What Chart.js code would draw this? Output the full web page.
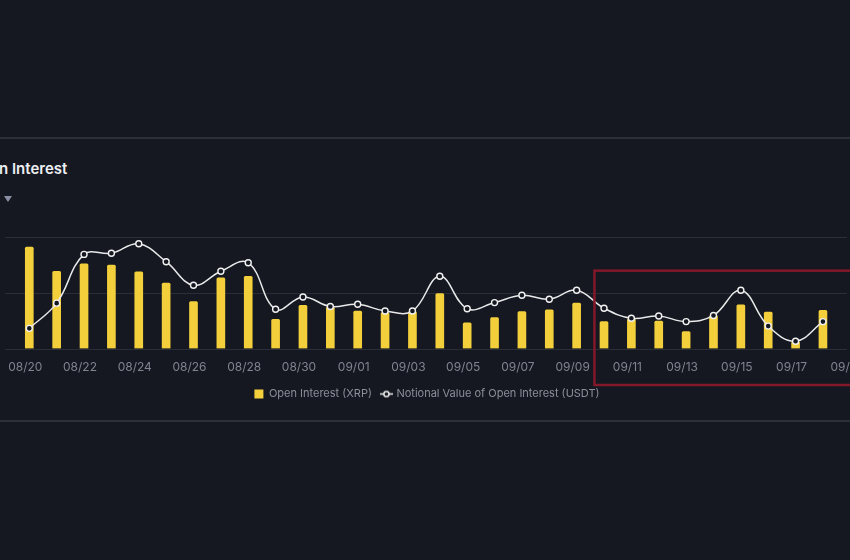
<!DOCTYPE html>
<html>
<head>
<meta charset="utf-8">
<script src="https://cdn.jsdelivr.net/npm/chart.js@4.4.1/dist/chart.umd.min.js"></script>
<style>
    html, body { margin: 0; padding: 0; }
    body {
        width: 850px; height: 560px; overflow: hidden; position: relative;
        background: #151821; font-family: Inter, "Noto Sans", sans-serif;
    }
    .sep { position: absolute; left: 0; width: 850px; height: 2px; background: #2b2f3a; }
    #title {
        position: absolute; top: 161px; left: -30px; white-space: nowrap;
        font: 600 15px Inter, sans-serif; line-height: 1; color: #eceef2;
    }
    #caret {
        position: absolute; left: 4px; top: 196px; width: 0; height: 0;
        border-left: 4px solid transparent; border-right: 4px solid transparent;
        border-top: 6px solid #8a8fa6;
    }
    #wrap { position: absolute; left: 0; top: 220px; width: 880px; height: 190px; }
</style>
</head>
<body>
<div class="sep" style="top:137px"></div>
<div id="title">Open Interest</div>
<div id="caret"></div>
<div class="sep" style="top:420px"></div>
<div id="wrap"><canvas id="oiChart" width="880" height="190"></canvas></div>

<script>
/* ---------------- DATA ---------------- */
const dates = [
    "08/20", "08/21", "08/22", "08/23", "08/24", "08/25", "08/26", "08/27", "08/28", "08/29",
    "08/30", "08/31", "09/01", "09/02", "09/03", "09/04", "09/05", "09/06", "09/07", "09/08",
    "09/09", "09/10", "09/11", "09/12", "09/13", "09/14", "09/15", "09/16", "09/17", "09/18",
    "09/19"
];
// Open Interest (XRP), millions
const openInterest = [
    181, 138, 151, 149, 137, 117, 84, 126, 129, 52,
    77, 74, 67, 64, 66, 98, 46, 55, 66, 69,
    81, 48, 53, 49, 30, 59, 78, 65, 12, 68,
    null
];
// Notional value of open interest (USDT), millions
const notionalValue = [
    36, 81, 168, 170, 187, 155, 113, 138, 153, 70,
    92, 75, 79, 67, 67, 129, 71, 82, 95, 88,
    104, 72, 54, 58, 48, 59, 104, 40, 13, 48,
    null
];
const yGrid = [0, 100, 200];

// highlighted zone (red frame in the screenshot)
const highlightFrom = 20.65;   // category index
const highlightTop = 139;      // y value

/* ---------------- TITLE CLIP ---------------- */
const mctx = document.createElement("canvas").getContext("2d");
mctx.font = "600 15px Inter";
document.getElementById("title").style.left = -(mctx.measureText("Ope").width + 1) + "px";

/* ---------------- LEGEND ICON ---------------- */
const lineIcon = document.createElement("canvas");
lineIcon.width = 13;
lineIcon.height = 9;
(() => {
    const c = lineIcon.getContext("2d");
    c.strokeStyle = "#f2f2f2";
    c.lineWidth = 1.5;
    c.beginPath(); c.moveTo(0, 4.5); c.lineTo(13, 4.5); c.stroke();
    c.fillStyle = "#151821";
    c.beginPath(); c.arc(6.5, 4.5, 2.6, 0, Math.PI * 2); c.fill(); c.stroke();
})();

/* ---------------- PLUGINS ---------------- */
const gridPlugin = {
    id: "fullGrid",
    beforeDatasetsDraw(chart) {
        const ctx = chart.ctx, y = chart.scales.y;
        ctx.save();
        ctx.strokeStyle = "#2a2e39";
        ctx.lineWidth = 1;
        yGrid.forEach(v => {
            const py = Math.round(y.getPixelForValue(v)) + 0.5;
            ctx.beginPath();
            ctx.moveTo(5, py);
            ctx.lineTo(847, py);
            ctx.stroke();
        });
        ctx.restore();
    }
};

const framePlugin = {
    id: "frame",
    afterLayout(chart) {
        // legend sits a little left of the plot centre in the screenshot
        chart.legend.left -= 11;
        chart.legend.right -= 11;
    },
    afterDraw(chart) {
        const ctx = chart.ctx, x = chart.scales.x, y = chart.scales.y;
        const step = x.getPixelForValue(1) - x.getPixelForValue(0);
        const left = x.getPixelForValue(0) + highlightFrom * step;
        const top = y.getPixelForValue(highlightTop);
        const bottom = chart.chartArea.bottom + 36.5;
        ctx.save();
        ctx.strokeStyle = "#83182b";
        ctx.lineWidth = 2.5;
        ctx.strokeRect(left, top, chart.width + 20 - left, bottom - top);
        ctx.restore();
    }
};

/* ---------------- CHART ---------------- */
new Chart(document.getElementById("oiChart"), {
    data: {
        labels: dates,
        datasets: [
            {
                type: "bar",
                label: "Open Interest (XRP)",
                data: openInterest,
                backgroundColor: "#f3cf3c",
                barThickness: 8,
                borderRadius: { topLeft: 1.5, topRight: 1.5 },
                borderSkipped: "bottom",
                yAxisID: "y",
                order: 1
            },
            {
                type: "line",
                label: "Notional Value of Open Interest (USDT)",
                data: notionalValue,
                borderColor: "#e9e9ea",
                borderWidth: 1.5,
                tension: 0.4,
                pointRadius: 3,
                pointBorderWidth: 1.4,
                pointBackgroundColor: "#151821",
                pointBorderColor: "#f2f2f2",
                yAxisID: "y1",
                order: 0
            }
        ]
    },
    options: {
        responsive: false,
        animation: false,
        layout: { padding: { left: 12, right: 16, top: 16.5, bottom: 0.5 } },
        scales: {
            x: {
                offset: true,
                grid: { display: false, drawTicks: false },
                border: { display: false },
                ticks: {
                    autoSkip: false,
                    maxRotation: 0,
                    padding: 12,
                    labelOffset: -4,
                    color: "#7f8490",
                    font: { family: "Inter", size: 12 },
                    callback: (v, i) => (i % 2 === 0 ? dates[i] : "")
                },
                afterFit: s => { s.height = 30; }
            },
            y: { display: false, min: 0, max: 200 },
            y1: { display: false, min: 0, max: 200 }
        },
        plugins: {
            tooltip: { enabled: false },
            legend: {
                position: "bottom",
                labels: {
                    color: "#8a8f9a",
                    font: { family: "Inter", size: 11 },
                    usePointStyle: true,
                    boxWidth: 9,
                    boxHeight: 9,
                    padding: 10,
                    generateLabels: chart => {
                        const ds = chart.data.datasets;
                        return [
                            {
                                text: ds[0].label, datasetIndex: 0, pointStyle: "rect",
                                fillStyle: "#f3cf3c", strokeStyle: "#f3cf3c", lineWidth: 0,
                                fontColor: "#8a8f9a"
                            },
                            {
                                text: ds[1].label, datasetIndex: 1, pointStyle: lineIcon,
                                fillStyle: "#151821", strokeStyle: "#f2f2f2", lineWidth: 1.5,
                                fontColor: "#8a8f9a"
                            }
                        ];
                    }
                }
            }
        }
    },
    plugins: [gridPlugin, framePlugin]
});
</script>
</body>
</html>
